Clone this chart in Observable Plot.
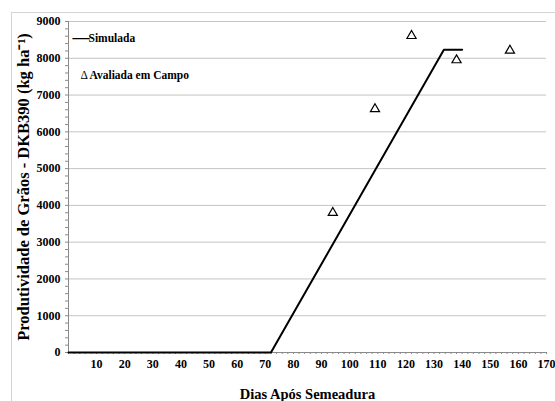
<!DOCTYPE html>
<html>
<head>
<meta charset="utf-8">
<script src="https://cdn.jsdelivr.net/npm/d3@7"></script>
<script src="https://cdn.jsdelivr.net/npm/@observablehq/plot@0.6"></script>
<style>
  html, body { margin: 0; padding: 0; background: #fff; overflow: hidden; }
  #wrap { position: relative; width: 555px; height: 401px; }
  #frame { position: absolute; left: 11px; top: 12px; width: 700px; height: 600px; border: 1px solid #d4d4d4; box-sizing: border-box; }
  #chart { position: absolute; left: 0; top: 0; }
  #chart svg, #chart svg text { font-family: "Liberation Serif", "Times New Roman", serif !important; }
</style>
</head>
<body>
<div id="wrap"><div id="frame"></div><div id="chart"></div></div>
<script>
// Simulated yield (line vertices)
const simDays = [0, 72, 133.5, 140];
const simYield = [0, 0, 8230, 8230];
// Field-evaluated yield
const obsDays = [94, 109, 122, 138, 157];
const obsYield = [3800, 6620, 8610, 7950, 8210];
// Axis ticks
const yTicks = d3.range(0, 9001, 1000);
const yMinor = d3.range(0, 9001, 200);
const xTicks = d3.range(10, 171, 10);
const xMinor = d3.range(0, 171, 2);
const yTitle = "Produtividade de Grãos - DKB390 (kg ha\u207B\u00B9)";
const xTitle = "Dias Após Semeadura";
const legendSim = "Simulada";
const legendObs = "Avaliada em Campo";

const sim = simDays.map((d, i) => ({day: d, y: simYield[i]}));
const obs = obsDays.map((d, i) => ({day: d, y: obsYield[i]}));

const font = "Liberation Serif";

const plot = Plot.plot({
  width: 555,
  height: 401,
  marginLeft: 68,
  marginRight: 9,
  marginTop: 21,
  marginBottom: 49,
  style: {background: "transparent", fontFamily: font, fontWeight: "bold", fontSize: "12px", color: "#000"},
  x: {domain: [0, 170]},
  y: {domain: [0, 9000]},
  marks: [
    Plot.ruleY(yTicks.filter(d => d > 0), {stroke: "#c4c4c4", strokeWidth: 1}),
    Plot.ruleX([0], {stroke: "#8a8a8a"}),
    Plot.ruleY([0], {stroke: "#8a8a8a"}),
    Plot.axisY({ticks: yMinor, tickSize: 3, stroke: "#8a8a8a", text: null, label: null}),
    Plot.axisY({ticks: yTicks, tickSize: 0, tickPadding: 8, tickFormat: d => String(d), label: null, fontSize: 12, fontWeight: "bold", fill: "#000"}),
    Plot.axisX({ticks: xMinor, tickSize: 2, stroke: "#8a8a8a", text: null, label: null}),
    Plot.axisX({ticks: xTicks, tickSize: 0, tickPadding: 7, tickFormat: d => String(d), label: null, fontSize: 12, fontWeight: "bold", fill: "#000"}),
    Plot.line(sim, {x: "day", y: "y", stroke: "#000", strokeWidth: 2}),
    Plot.dot(obs, {x: "day", y: "y", symbol: "triangle", r: 3.4, stroke: "#000", strokeWidth: 1.2, fill: "#fff"}),
    // legend
    Plot.text([legendSim], {frameAnchor: "top-left", dx: 4, dy: 9, text: d => "\u2014", fontSize: 17, fontWeight: "bold", textAnchor: "start"}),
    Plot.text([legendSim], {frameAnchor: "top-left", dx: 20, dy: 16.5, text: d => d, fontSize: 11.5, fontWeight: "bold", textAnchor: "start", lineAnchor: "middle"}),
    Plot.text([legendObs], {frameAnchor: "top-left", dx: 12, dy: 54, text: d => "\u0394", fontSize: 11.5, fontWeight: "normal", lineAnchor: "middle"}),
    Plot.text([legendObs], {frameAnchor: "top-left", dx: 21, dy: 54, text: d => d, fontSize: 11.5, fontWeight: "bold", textAnchor: "start", lineAnchor: "middle"}),
    // axis titles
    Plot.text([yTitle], {frameAnchor: "left", dx: -45, dy: 0, rotate: -90, text: d => d, fontSize: 16.5, fontWeight: "bold", textAnchor: "middle", lineAnchor: "middle"}),
    Plot.text([xTitle], {frameAnchor: "bottom", dy: 46, text: d => d, fontSize: 14.5, fontWeight: "bold", lineAnchor: "bottom"})
  ]
});
document.getElementById("chart").appendChild(plot);
</script>
</body>
</html>
